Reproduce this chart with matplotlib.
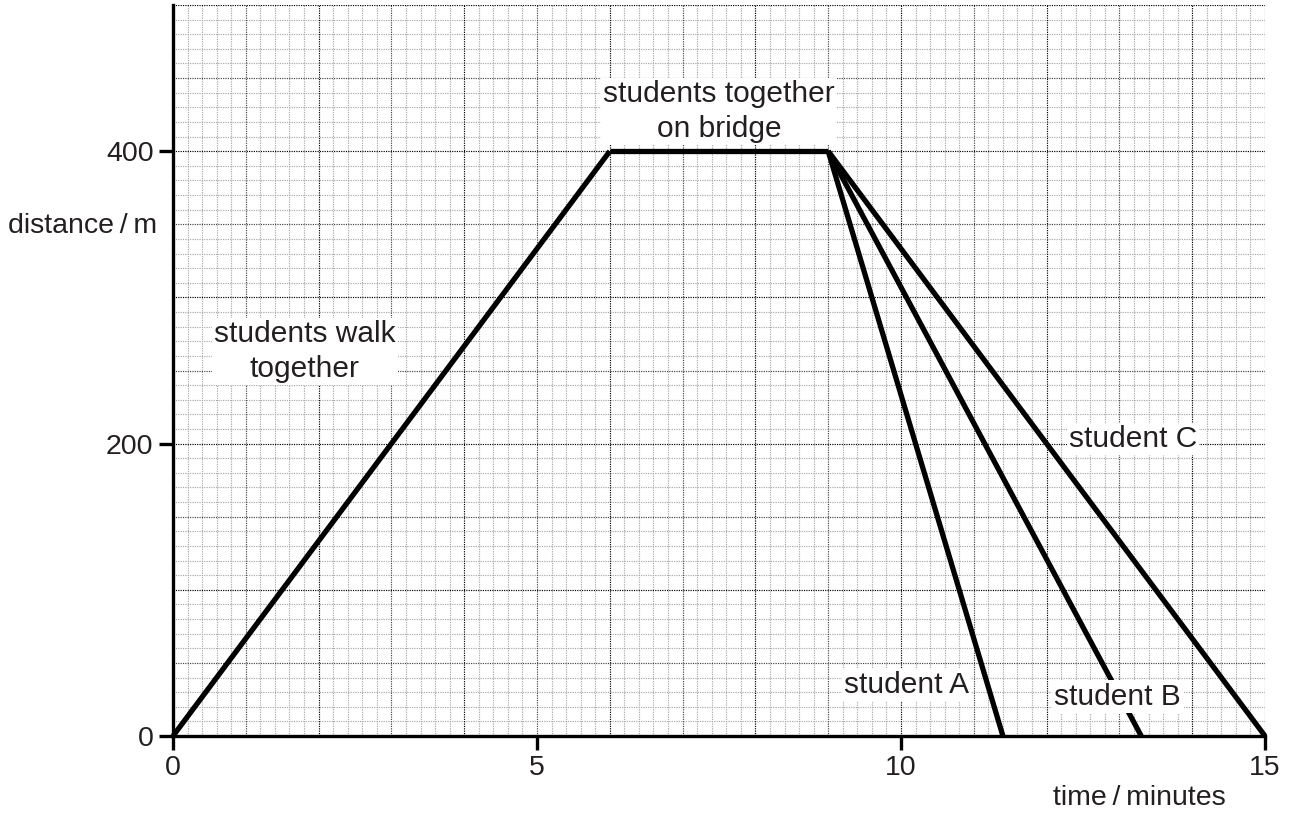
import numpy as np
import matplotlib
matplotlib.use("Agg")
import matplotlib.pyplot as plt

plt.rcParams['font.family'] = ['Liberation Sans', 'DejaVu Sans']

# data
walk_t = [0, 6]
walk_d = [0, 400]
bridge_t = [6, 9]
bridge_d = [400, 400]
a_t = [9, 11.4]
a_d = [400, 0]
b_t = [9, 13.3]
b_d = [400, 0]
c_t = [9, 15]
c_d = [400, 0]
x_ticks = [0, 5, 10, 15]
y_ticks = [0, 200, 400]

fig = plt.figure(figsize=(12.9, 8.14), dpi=100)
ax = fig.add_axes([173/1290, 78/814, (1265-173)/1290, (736-5)/814])
ax.set_xlim(0, 15)
ax.set_ylim(0, 500)

# graph-paper grid
dot = (0, (1, 1))
for x in np.arange(0.2, 15.01, 0.2):
    r = round(x, 1)
    if abs(r / 2 - round(r / 2)) < 1e-6:
        c, z = '#000000', 1.2
    elif abs(r - round(r)) < 1e-6:
        c, z = '#444444', 1.1
    else:
        c, z = '#a8a8a8', 1.0
    ax.axvline(r, color=c, lw=0.85, ls=dot, zorder=z)
for y in np.arange(10, 500.1, 10):
    r = int(round(y))
    if r % 100 == 0:
        c, z = '#000000', 1.2
    elif r % 50 == 0:
        c, z = '#444444', 1.1
    else:
        c, z = '#a8a8a8', 1.0
    ax.axhline(r, color=c, lw=0.85, ls=dot, zorder=z)

lw = 3.8
for t, d in [(walk_t, walk_d), (bridge_t, bridge_d), (a_t, a_d), (b_t, b_d), (c_t, c_d)]:
    ax.plot(t, d, color='black', lw=lw, solid_capstyle='butt', zorder=3, clip_on=False)

for s in ['top', 'right']:
    ax.spines[s].set_visible(False)
for s in ['left', 'bottom']:
    ax.spines[s].set_linewidth(2.4)
    ax.spines[s].set_zorder(4)

ax.set_xticks(x_ticks)
ax.set_yticks(y_ticks)
ax.tick_params(axis='both', direction='out', length=10, width=2.4, labelsize=20.5,
               colors='black', labelcolor='#231f20', pad=4)

tc = '#231f20'
fs = 21.5
bbox = dict(facecolor='white', edgecolor='none', pad=1.5)
ax.text(7.5, 427, 'students together\non bridge', ha='center', va='center', fontsize=fs,
        color=tc, bbox=bbox, zorder=5, linespacing=1.3)
ax.text(1.81, 263, 'students walk\ntogether', ha='center', va='center', fontsize=fs,
        color=tc, bbox=bbox, zorder=5, linespacing=1.3)
ax.text(13.19, 203, 'student C', ha='center', va='center', fontsize=fs, color=tc, bbox=bbox, zorder=5)
ax.text(10.07, 35, 'student A', ha='center', va='center', fontsize=fs, color=tc, bbox=bbox, zorder=5)
ax.text(12.97, 27, 'student B', ha='center', va='center', fontsize=fs, color=tc, bbox=bbox, zorder=5)

fig.text(157/1290, 1 - 226/814, 'distance\u2009/\u2009m', ha='right', va='center', fontsize=20.5, color=tc)
fig.text(1226/1290, 1 - 798/814, 'time\u2009/\u2009minutes', ha='right', va='center', fontsize=20.5, color=tc)

fig.savefig('out.png', dpi=100)
